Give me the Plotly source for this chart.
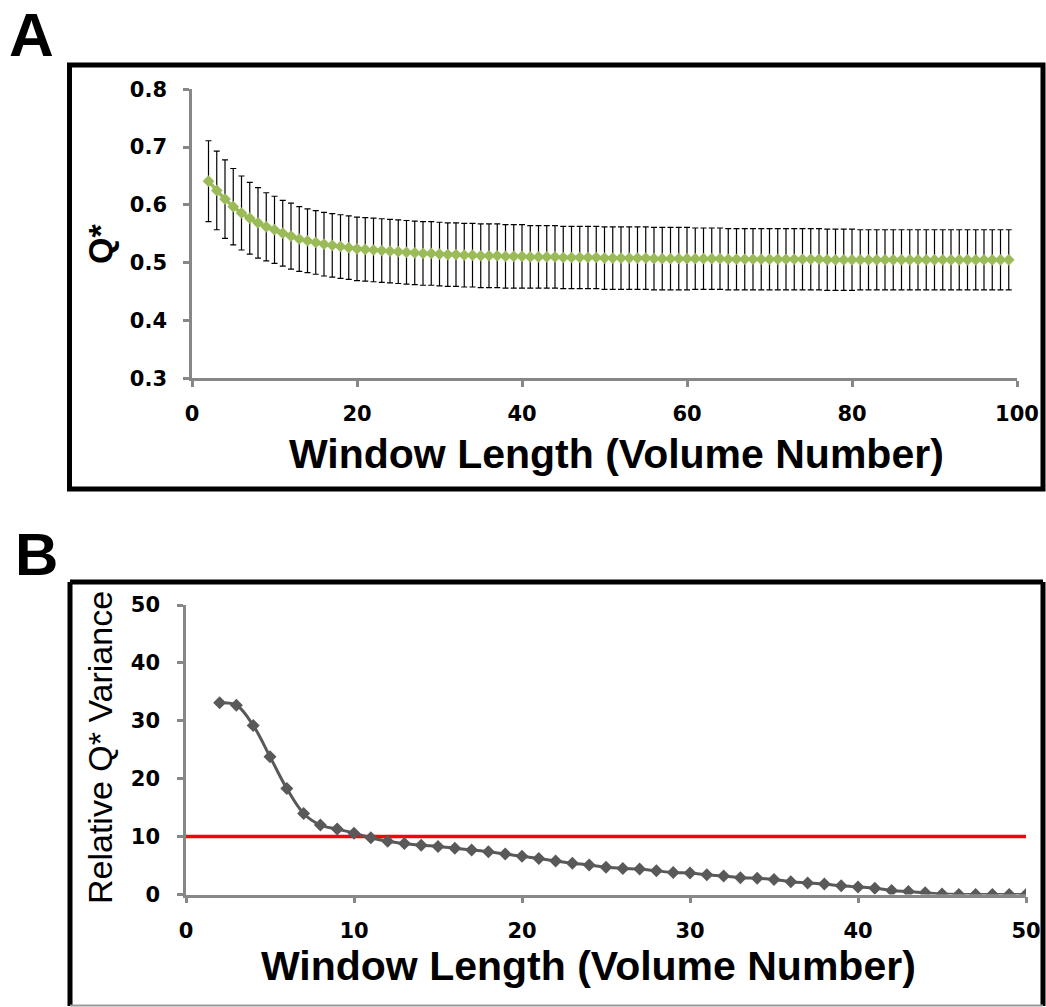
import plotly.graph_objects as go

W, H = 1046, 1007

# ---------------- data ----------------
window_a = list(range(2, 100))
q_mean = [
    0.641, 0.625, 0.610, 0.597, 0.586, 0.577, 0.569, 0.562, 0.557, 0.551,
    0.546, 0.541, 0.538, 0.535, 0.532, 0.530, 0.528, 0.526, 0.524, 0.523,
    0.522, 0.521, 0.520, 0.519, 0.518, 0.517, 0.516, 0.516, 0.515, 0.514,
    0.514, 0.513, 0.513, 0.512, 0.512, 0.512, 0.511, 0.511, 0.511, 0.510,
    0.510, 0.510, 0.510, 0.509, 0.509, 0.509, 0.509, 0.509, 0.508, 0.508,
    0.508, 0.508, 0.508, 0.508, 0.507, 0.507, 0.507, 0.507, 0.507, 0.507,
    0.507, 0.507, 0.507, 0.506, 0.506, 0.506, 0.506, 0.506, 0.506, 0.506,
    0.506, 0.506, 0.506, 0.506, 0.506, 0.505, 0.505, 0.505, 0.505, 0.505,
    0.505, 0.505, 0.505, 0.505, 0.505, 0.505, 0.505, 0.505, 0.505, 0.505,
    0.505, 0.505, 0.505, 0.505, 0.505, 0.505, 0.505, 0.505,
]
q_err = [
    0.070, 0.068, 0.068, 0.066, 0.064, 0.062, 0.061, 0.059, 0.058, 0.057,
    0.057, 0.056, 0.055, 0.055, 0.055, 0.055, 0.055, 0.055, 0.055, 0.055,
    0.055, 0.055, 0.055, 0.055, 0.055, 0.055, 0.055, 0.055, 0.055, 0.055,
    0.055, 0.055, 0.055, 0.055, 0.055, 0.055, 0.055, 0.055, 0.055, 0.054,
    0.054, 0.054, 0.054, 0.054, 0.054, 0.054, 0.054, 0.054, 0.054, 0.054,
    0.054, 0.054, 0.054, 0.054, 0.054, 0.054, 0.054, 0.054, 0.054, 0.053,
    0.053, 0.053, 0.053, 0.053, 0.053, 0.053, 0.053, 0.053, 0.053, 0.053,
    0.053, 0.053, 0.053, 0.053, 0.053, 0.053, 0.053, 0.053, 0.053, 0.052,
    0.052, 0.052, 0.052, 0.052, 0.052, 0.052, 0.052, 0.052, 0.052, 0.052,
    0.052, 0.052, 0.052, 0.052, 0.052, 0.052, 0.052, 0.052,
]

window_b = list(range(2, 51))
rel_var = [
    33.1, 32.7, 29.2, 23.8, 18.3, 14.0, 12.0, 11.3, 10.6, 9.8,
    9.2, 8.8, 8.5, 8.3, 8.0, 7.7, 7.4, 7.0, 6.6, 6.2,
    5.8, 5.4, 5.1, 4.7, 4.5, 4.4, 4.1, 3.8, 3.7, 3.4,
    3.2, 2.9, 2.8, 2.6, 2.2, 2.0, 1.8, 1.5, 1.3, 1.1,
    0.7, 0.5, 0.3, 0.1, 0.0, 0.0, 0.0, 0.0, 0.0,
]
threshold_x = [0, 50]
threshold_y = [10, 10]

x_ticks_a = [0, 20, 40, 60, 80, 100]
y_ticks_a = [0.3, 0.4, 0.5, 0.6, 0.7, 0.8]
x_ticks_b = [0, 10, 20, 30, 40, 50]
y_ticks_b = [0, 10, 20, 30, 40, 50]


def px(x):
    return x / W


def py(y):
    return 1 - y / H


fig = go.Figure()

fig.add_trace(go.Scatter(
    x=window_a, y=q_mean, mode="lines+markers",
    line=dict(color="#9BBB59", width=3.5, shape="spline"),
    marker=dict(symbol="diamond", size=9, color="#9BBB59"),
    error_y=dict(type="data", array=q_err, visible=True, color="black",
                 thickness=1.2, width=3),
    xaxis="x", yaxis="y", showlegend=False,
))

fig.add_trace(go.Scatter(
    x=threshold_x, y=threshold_y, mode="lines",
    line=dict(color="#FF0000", width=3.5),
    xaxis="x2", yaxis="y2", showlegend=False,
))

fig.add_trace(go.Scatter(
    x=window_b, y=rel_var, mode="lines+markers",
    line=dict(color="#595959", width=3, shape="spline"),
    marker=dict(symbol="diamond", size=10, color="#595959"),
    xaxis="x2", yaxis="y2", showlegend=False,
))

tickfont = dict(family="DejaVu Sans", size=21, color="black", weight="bold")
axcommon = dict(showline=True, linecolor="#878787", linewidth=2.5,
                ticks="outside", tickcolor="#878787", tickwidth=2.5,
                ticklen=6, showgrid=False, zeroline=False, tickfont=tickfont,
                automargin=False)

fig.update_layout(
    width=W, height=H, margin=dict(l=0, r=0, t=0, b=0, autoexpand=False),
    paper_bgcolor="white", plot_bgcolor="white",
    xaxis=dict(domain=[px(192), px(1017)], range=[0, 100], tickvals=x_ticks_a,
               anchor="y", ticklabelstandoff=9, **axcommon),
    yaxis=dict(domain=[py(378.3), py(89.3)], range=[0.3, 0.8], tickvals=y_ticks_a,
               tickformat=".1f", anchor="x", ticklabelstandoff=12, **axcommon),
    xaxis2=dict(domain=[px(186), px(1026)], range=[0, 50], tickvals=x_ticks_b,
                anchor="y2", ticklabelstandoff=10, **axcommon),
    yaxis2=dict(domain=[py(894.5), py(605)], range=[0, 50], tickvals=y_ticks_b,
                anchor="x2", ticklabelstandoff=13, **axcommon),
)

# frames
fig.add_shape(type="rect", xref="paper", yref="paper",
              x0=px(69.5), x1=px(1043), y0=py(489), y1=py(65),
              line=dict(color="black", width=5), fillcolor="rgba(0,0,0,0)")
fig.add_shape(type="line", xref="paper", yref="paper",
              x0=px(70), x1=px(1043), y0=py(582), y1=py(582),
              line=dict(color="black", width=5))
fig.add_shape(type="line", xref="paper", yref="paper",
              x0=px(70), x1=px(70), y0=py(582), y1=py(1006),
              line=dict(color="black", width=5))
fig.add_shape(type="line", xref="paper", yref="paper",
              x0=px(1043), x1=px(1043), y0=py(582), y1=py(1006),
              line=dict(color="black", width=5))
fig.add_shape(type="line", xref="paper", yref="paper",
              x0=px(70), x1=px(1043), y0=py(1005.5), y1=py(1005.5),
              line=dict(color="#9a9a9a", width=2))

title_font = dict(family="Liberation Sans", size=41, color="black", weight="bold")
ann = [
    dict(text="A", x=px(31), y=py(35), font=dict(family="Liberation Sans", size=62,
                                               color="black", weight="bold")),
    dict(text="B", x=px(36), y=py(554), font=dict(family="Liberation Sans", size=60,
                                                color="black", weight="bold")),
    dict(text="Window Length (Volume Number)", x=px(616), y=py(454), font=title_font),
    dict(text="Window Length (Volume Number)", x=px(588), y=py(966), font=title_font),
    dict(text="Q*", x=px(100), y=py(244), textangle=-90,
         font=dict(family="Liberation Sans", size=34, color="black", weight="bold")),
    dict(text="Relative Q* Variance", x=px(100), y=py(748), textangle=-90,
         font=dict(family="Liberation Sans", size=34, color="black")),
]
for a in ann:
    fig.add_annotation(xref="paper", yref="paper", showarrow=False,
                       xanchor="center", yanchor="middle", **a)

fig.write_html(
    "out.html",
    post_script="document.body.style.margin='0';document.body.style.overflow='hidden';",
)
